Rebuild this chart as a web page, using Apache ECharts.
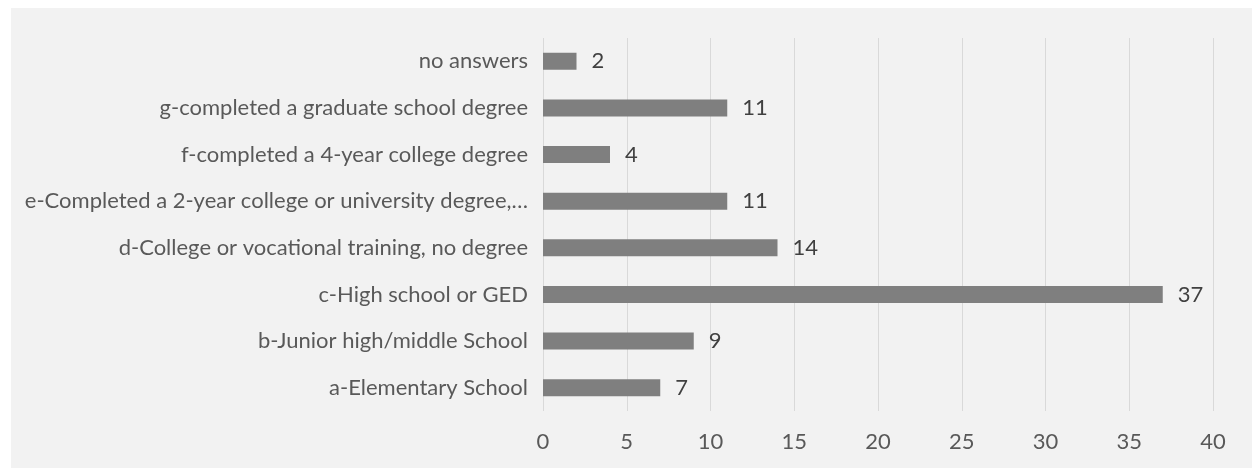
<!DOCTYPE html>
<html>
<head>
<meta charset="utf-8">
<script src="https://cdn.jsdelivr.net/npm/echarts@6/dist/echarts.min.js"></script>
<style>
  html, body { margin: 0; padding: 0; background: #ffffff; width: 1252px; height: 468px; overflow: hidden; }
  #chart { position: absolute; left: 11px; top: 8px; width: 1241px; height: 460px; background: #f2f2f2; }
</style>
</head>
<body>
<div id="chart"></div>
<script>
// Education level of respondents (counts), listed bottom to top
const categories = [
  'a-Elementary School',
  'b-Junior high/middle School',
  'c-High school or GED',
  'd-College or vocational training, no degree',
  'e-Completed a 2-year college or university degree,\u2026',
  'f-completed a 4-year college degree',
  'g-completed a graduate school degree',
  'no answers'
];
const counts = [7, 9, 37, 14, 11, 4, 11, 2];
const axisMin = 0;
const axisMax = 40;
const axisStep = 5;

const FONT = 'Lato, Open Sans, sans-serif';
const FS = 22;
const chart = echarts.init(document.getElementById('chart'), null, { renderer: 'canvas' });
chart.setOption({
  backgroundColor: '#f2f2f2',
  animation: false,
  grid: { left: 532, right: 39, top: 30, bottom: 57, containLabel: false },
  xAxis: {
    type: 'value',
    min: axisMin,
    max: axisMax,
    interval: axisStep,
    axisLine: { show: false },
    axisTick: { show: false },
    splitLine: { show: true, lineStyle: { color: '#d9d9d9', width: 1 } },
    axisLabel: { color: '#595959', fontSize: FS, fontFamily: FONT, margin: 20 }
  },
  yAxis: {
    type: 'category',
    data: categories,
    axisLine: { show: false },
    axisTick: { show: false },
    splitLine: { show: false },
    axisLabel: { color: '#595959', fontSize: FS, fontFamily: FONT, margin: 15 }
  },
  series: [{
    type: 'bar',
    data: counts,
    barWidth: 17,
    itemStyle: { color: '#7f7f7f' },
    label: {
      show: true,
      position: 'right',
      distance: 15,
      color: '#404040',
      fontSize: FS,
      fontFamily: FONT
    }
  }]
});
</script>
</body>
</html>
